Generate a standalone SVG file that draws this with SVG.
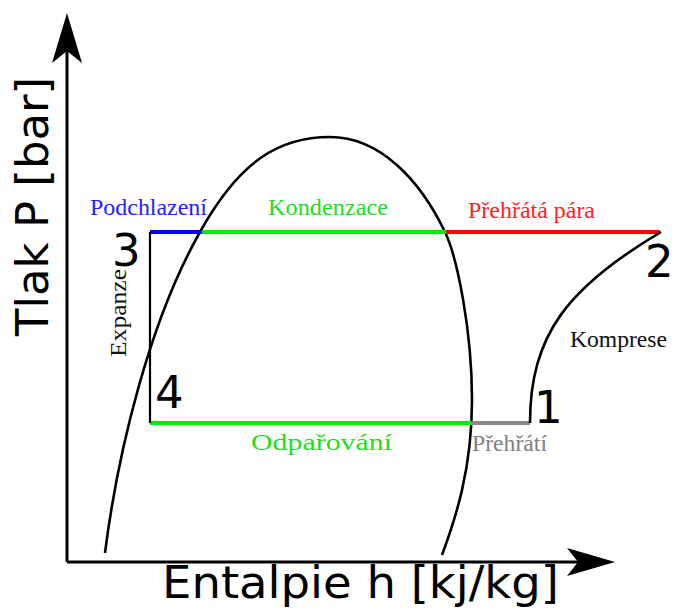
<svg xmlns="http://www.w3.org/2000/svg" width="675" height="610" viewBox="0 0 675 610">
<style>
.ax{fill:none;stroke:#000;stroke-width:3}
.crv{fill:none;stroke:#000;stroke-width:2.6}
.big{font-family:"DejaVu Sans",sans-serif;font-size:45px;fill:#000}
.lbl{font-family:"Liberation Serif","Times New Roman",serif;font-size:23.5px}
.cyc{fill:none;stroke-width:4}
</style>
<rect width="675" height="610" fill="#fff"/>
<g id="axes">
<path class="ax" d="M67,562 V45 M67,562 H585"/>
<path d="M67,13 L82,63 L67,51 L52,63 Z" fill="#000"/>
<path d="M615,562 L567,548 L578,562 L567,576 Z" fill="#000"/>
<text class="big" x="162" y="598" textLength="397" lengthAdjust="spacingAndGlyphs">Entalpie h [kj/kg]</text>
<text class="big" transform="translate(48,336) rotate(-90)">Tlak P [bar]</text>
</g>
<g id="dome">
<path class="crv" d="M105,553 C118,450 150,320 200,232 C240,160 280,137 330,137 C380,137 420,180 445,232 C457,257 472,330 472,400 C472,470 455,520 442,555"/>
</g>
<g id="cycle">
<path class="cyc" stroke="#0000ff" d="M150,232 H202"/>
<path class="cyc" stroke="#00ee00" d="M202,232 H446"/>
<path class="cyc" stroke="#ff0000" d="M446,232 H660"/>
<path class="cyc" stroke="#00ee00" d="M150,423 H471"/>
<path class="cyc" stroke="#888888" stroke-width="3.5" d="M471,423 H530"/>
<path fill="none" stroke="#000" stroke-width="2.2" d="M150,232 V423"/>
<path class="crv" d="M530,423 C530,335 568,287 661,232"/>
</g>
<g id="p3"><text class="big" x="112" y="266">3</text></g>
<g id="p4"><text class="big" x="155" y="408">4</text></g>
<g id="p2"><text class="big" x="645" y="277" font-size="44">2</text></g>
<g id="p1"><text class="big" x="534" y="423">1</text></g>
<g id="labels">
<text class="lbl" fill="#2222ff" x="90" y="215" textLength="117" lengthAdjust="spacingAndGlyphs">Podchlazení</text>
<text class="lbl" fill="#22dd22" x="268" y="215" textLength="120" lengthAdjust="spacingAndGlyphs">Kondenzace</text>
<text class="lbl" fill="#ff2222" x="468" y="218" textLength="127" lengthAdjust="spacingAndGlyphs">Přehřátá pára</text>
<text class="lbl" fill="#111" x="570" y="347" textLength="97" lengthAdjust="spacingAndGlyphs">Komprese</text>
<text class="lbl" fill="#111" font-size="21" transform="translate(126,357) rotate(-90)" textLength="88" lengthAdjust="spacingAndGlyphs">Expanze</text>
<text class="lbl" fill="#22dd22" x="251" y="450" textLength="141" lengthAdjust="spacingAndGlyphs">Odpařování</text>
<text class="lbl" fill="#808080" x="472" y="451" textLength="75" lengthAdjust="spacingAndGlyphs">Přehřátí</text>
</g>
</svg>
